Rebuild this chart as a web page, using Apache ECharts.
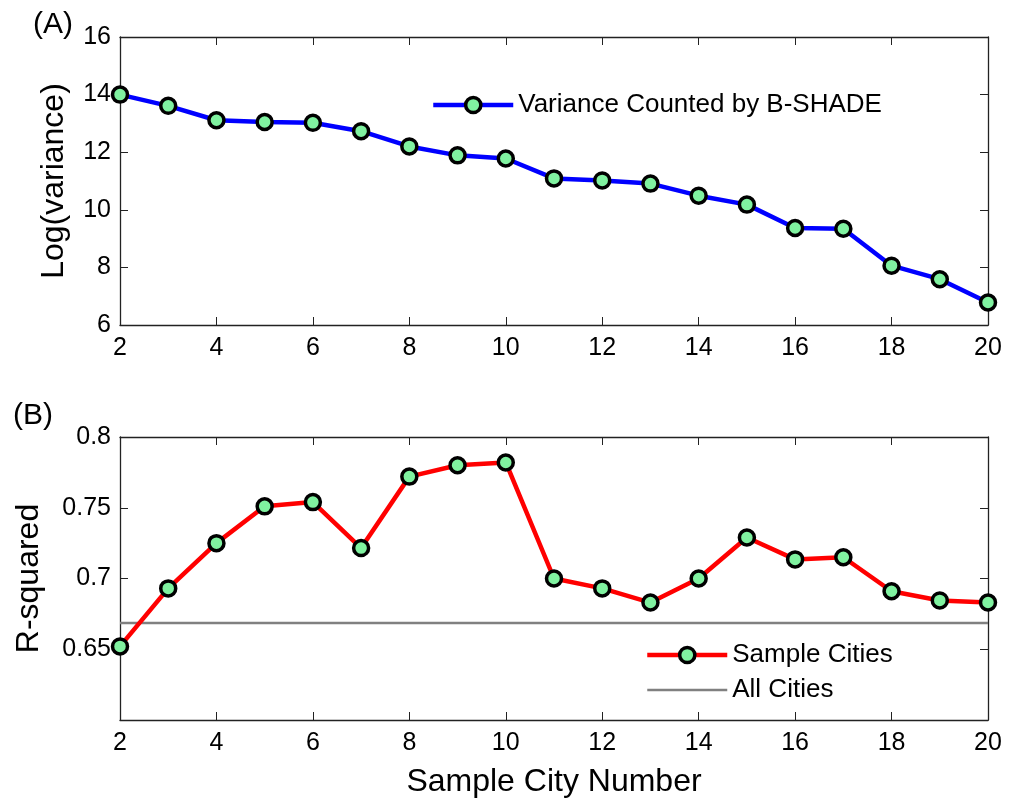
<!DOCTYPE html>
<html>
<head>
<meta charset="utf-8">
<script src="https://cdn.jsdelivr.net/npm/echarts@6/dist/echarts.min.js"></script>
<style>
html,body{margin:0;padding:0;background:#fff;}
#chart{width:1018px;height:799px;}
</style>
</head>
<body>
<div id="chart"></div>
<script>
// ---- data ----
const cityNumbers = [2, 3, 4, 5, 6, 7, 8, 9, 10, 11, 12, 13, 14, 15, 16, 17, 18, 19, 20];
const logVariance = [14.0, 13.61, 13.11, 13.05, 13.02, 12.73, 12.20, 11.89, 11.78, 11.09, 11.02, 10.91, 10.49, 10.18, 9.37, 9.34, 8.06, 7.59, 6.78];
const rSquared = [0.652, 0.693, 0.725, 0.751, 0.754, 0.7215, 0.772, 0.780, 0.782, 0.700, 0.693, 0.683, 0.700, 0.729, 0.7135, 0.715, 0.691, 0.6845, 0.683];
const allCitiesR2 = 0.6685;
const seriesNames = ['Variance Counted by B-SHADE', 'Sample Cities', 'All Cities'];
const panelLabels = ['(A)', '(B)'];

const FONT = 'Arial, "Liberation Sans", sans-serif';
const AXIS_COLOR = '#222';
const MARKER_FILL = '#80f2a0';

const pairs = (xs, ys) => xs.map((x, i) => [x, ys[i]]);
const xMin = cityNumbers[0], xMax = cityNumbers[cityNumbers.length - 1];

function xAxisDef(gridIndex, top, name) {
  return {
    type: 'value', gridIndex: gridIndex, position: top ? 'top' : 'bottom',
    min: 2, max: 20, interval: 2,
    name: name || '', nameLocation: 'middle', nameGap: 46,
    nameTextStyle: { fontFamily: FONT, fontSize: 32, color: '#000' },
    axisLine: { show: true, onZero: false, lineStyle: { color: AXIS_COLOR, width: 1.3 } },
    axisTick: { show: true, inside: true, length: 8, lineStyle: { color: AXIS_COLOR, width: 1 } },
    axisLabel: { show: !top, margin: 11, fontFamily: FONT, fontSize: 25, color: '#000' },
    splitLine: { show: false }
  };
}
function yAxisDef(gridIndex, right, min, max, interval, name, nameGap, hideMin) {
  return {
    type: 'value', gridIndex: gridIndex, position: right ? 'right' : 'left',
    min: min, max: max, interval: interval,
    name: name || '', nameLocation: 'middle', nameGap: nameGap || 0,
    nameTextStyle: { fontFamily: FONT, fontSize: 32, color: '#000' },
    axisLine: { show: true, onZero: false, lineStyle: { color: AXIS_COLOR, width: 1.3 } },
    axisTick: { show: true, inside: true, length: 8, lineStyle: { color: AXIS_COLOR, width: 1 } },
    axisLabel: { show: !right, margin: 9, fontFamily: FONT, fontSize: 25, color: '#000', showMinLabel: !hideMin },
    splitLine: { show: false }
  };
}

const markerStyle = { color: MARKER_FILL, borderColor: '#000', borderWidth: 3.5 };
const legendText = { fontFamily: FONT, fontSize: 26, color: '#000' };

const option = {
  backgroundColor: '#fff',
  animation: false,
  grid: [
    { left: 120, top: 37, width: 868, height: 288 },
    { left: 120, top: 437, width: 868, height: 286 }
  ],
  xAxis: [
    xAxisDef(0, false), xAxisDef(0, true),
    xAxisDef(1, false, 'Sample City Number'), xAxisDef(1, true)
  ],
  yAxis: [
    yAxisDef(0, false, 6, 16, 2, 'Log(variance)', 50),
    yAxisDef(0, true, 6, 16, 2),
    yAxisDef(1, false, 0.6, 0.8, 0.05, 'R-squared', 75, true),
    yAxisDef(1, true, 0.6, 0.8, 0.05)
  ],
  legend: [
    {
      data: [{ name: seriesNames[0], lineStyle: { width: 4.5 }, itemStyle: { borderWidth: 3.5 } }],
      left: 426, top: 87, itemWidth: 80, itemHeight: 19, itemGap: 10,
      textStyle: legendText
    },
    {
      data: [
        { name: seriesNames[1], lineStyle: { width: 4.5 }, itemStyle: { borderWidth: 3.5 } },
        { name: seriesNames[2], lineStyle: { width: 2.5 }, itemStyle: { opacity: 0 } }
      ],
      orient: 'vertical', left: 640, top: 637,
      itemWidth: 80, itemHeight: 19, itemGap: 9,
      textStyle: legendText
    }
  ],
  graphic: [
    { type: 'text', left: 33, top: 10, style: { text: panelLabels[0], font: '30px ' + FONT, fill: '#000' } },
    { type: 'text', left: 13, top: 401, style: { text: panelLabels[1], font: '30px ' + FONT, fill: '#000' } }
  ],
  series: [
    {
      name: seriesNames[0], type: 'line', xAxisIndex: 0, yAxisIndex: 0,
      data: pairs(cityNumbers, logVariance),
      symbol: 'circle', symbolSize: 15, clip: false, z: 3,
      lineStyle: { color: '#0000ff', width: 4.5 },
      itemStyle: markerStyle
    },
    {
      name: seriesNames[2], type: 'line', xAxisIndex: 2, yAxisIndex: 2,
      data: [[xMin, allCitiesR2], [xMax, allCitiesR2]],
      symbol: 'none', showSymbol: false, z: 1,
      lineStyle: { color: '#808080', width: 2.5 },
      itemStyle: { color: '#808080' }
    },
    {
      name: seriesNames[1], type: 'line', xAxisIndex: 2, yAxisIndex: 2,
      data: pairs(cityNumbers, rSquared),
      symbol: 'circle', symbolSize: 15, clip: false, z: 3,
      lineStyle: { color: '#ff0000', width: 4.5 },
      itemStyle: markerStyle
    }
  ]
};

const chart = echarts.init(document.getElementById('chart'), null, { renderer: 'canvas' });
chart.setOption(option);
</script>
</body>
</html>
